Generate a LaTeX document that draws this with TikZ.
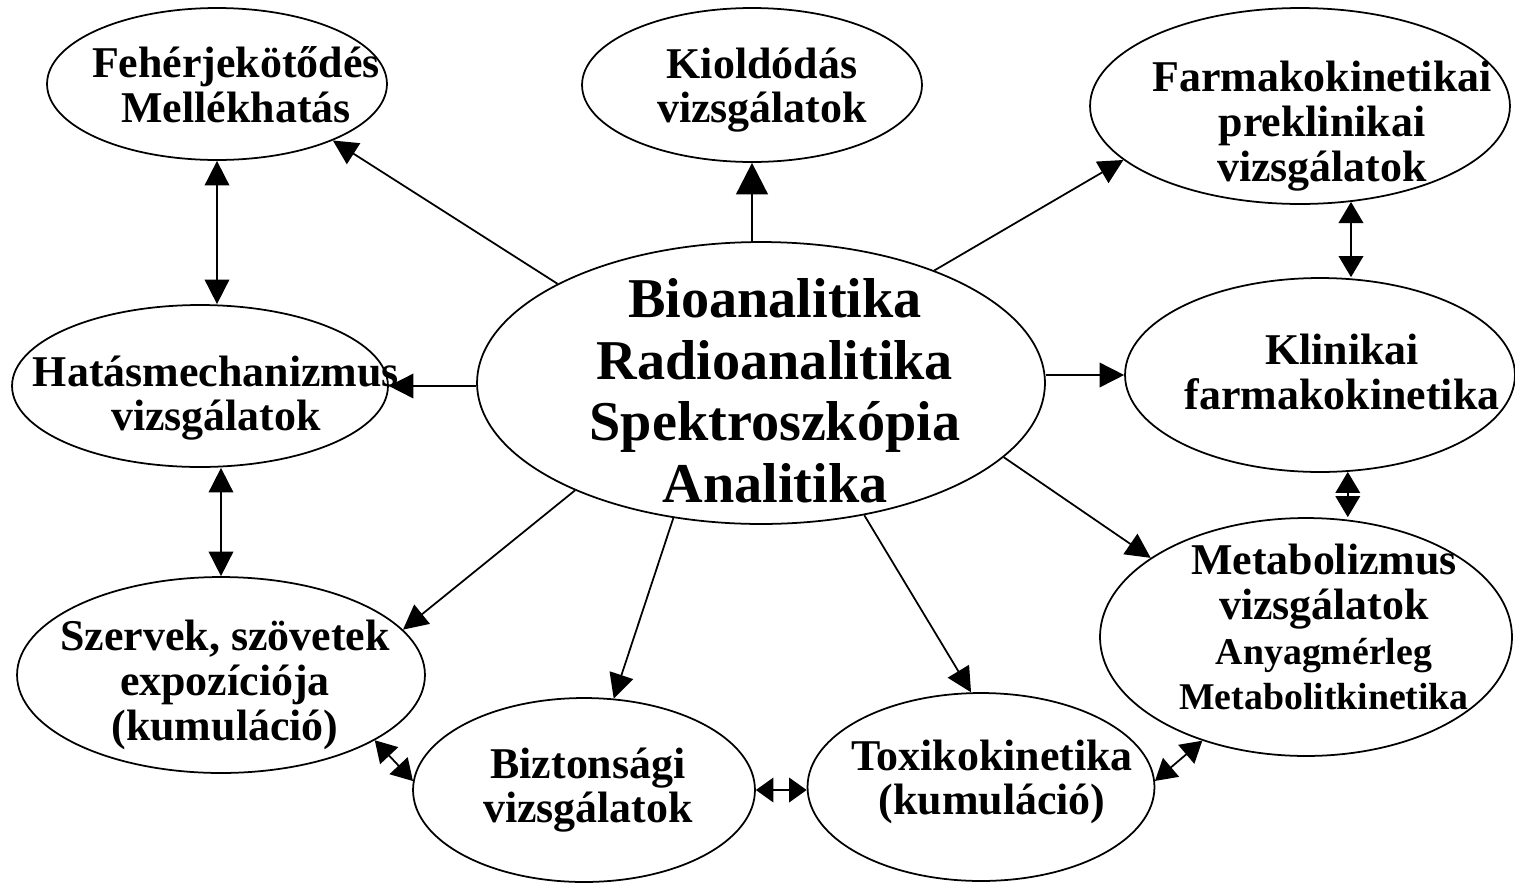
\documentclass[tikz,border=0pt]{standalone}
\usepackage{fontspec}
\setmainfont{Liberation Serif}
\usetikzlibrary{shapes.geometric,arrows.meta}

\begin{document}
\begin{tikzpicture}[x=0.02cm, y=-0.02cm, line width=1pt,
        >={Triangle[length=14pt,width=14pt]},
        main/.style = {draw, ellipse, inner sep=0pt},
        txt/.style = {font=\bfseries\fontsize{25}{25.5}\selectfont, align=center, inner sep=0pt},
        big/.style = {txt, font=\bfseries\fontsize{32}{35}\selectfont},
        dbl/.style = {>={Triangle[length=12pt,width=14pt]}}]
\useasboundingbox (0,0) rectangle (1515,883);
            \node[main, minimum width=11.36cm, minimum height=5.64cm,
                label={[big, shift={(14,8)}]center:{Bioanalitika\\ Radioanalitika\\ Spektroszkópia\\ Analitika}}] (5) at (761,383) {};
            \node[main, minimum width=6.8cm, minimum height=3.04cm,
                label={[txt, shift={(19,1)}]center:{Fehérjekötődés\\ Mellékhatás}}] (1) at (217,84) {};
            \node[main, minimum width=6.8cm, minimum height=3.08cm,
                label={[txt, shift={(10,5)}]center:{Kioldódás\\ vizsgálatok}}] (2) at (752,85) {};
            \node[main, minimum width=8.4cm, minimum height=3.92cm,
                label={[txt, shift={(22,20)}]center:{Farmakokinetikai\\ preklinikai\\ vizsgálatok}}] (3) at (1300,106) {};
            \node[main, minimum width=7.52cm, minimum height=3.24cm,
                label={[txt, shift={(16,12)}]center:{Hatásmechanizmus\\ vizsgálatok}}] (4) at (200,386) {};
            \node[main, minimum width=7.8cm, minimum height=3.88cm,
                label={[txt, shift={(22,-3)}]center:{Klinikai\\ farmakokinetika}}] (6) at (1320,375) {};
            \node[main, minimum width=8.16cm, minimum height=3.92cm,
                label={[txt, shift={(4,10)}]center:{Szervek, szövetek\\ expozíciója\\ (kumuláció)}}] (7) at (221,675) {};
            \node[main, minimum width=6.84cm, minimum height=3.68cm,
                label={[txt, shift={(4,0)}]center:{Biztonsági\\ vizsgálatok}}] (8) at (584,790) {};
            \node[main, minimum width=6.94cm, minimum height=3.76cm,
                label={[txt, shift={(11,-5)}]center:{Toxikokinetika\\ (kumuláció)}}] (9) at (981,787) {};
            \node[main, minimum width=8.24cm, minimum height=4.76cm,
                label={[txt, shift={(18,-10)}]center:{Metabolizmus\\ vizsgálatok\\ {\fontsize{21.5}{22}\selectfont Anyagmérleg}\\ {\fontsize{21.5}{22}\selectfont Metabolitkinetika}}}] (10) at (1306,637) {};
            % from the middle outwards
            \draw[->] (5.154) -- (1.-26);
                \draw[->, line width=1.6pt, >={Triangle[length=18pt,width=18pt]}] (2.south |- 5.north) -- (2.south);
                \draw[->] (5.33) -- (3.-163);
                \draw[->] (6.west -| 5.east) -- (6.west);
                \draw[->] (5.-17) -- (10.153);
                \draw[->] (4.east -| 5.west) -- (4.east);
                \draw[->] (5.210) -- (7.14);
                \draw[->] (5.237) -- (8.72);
                \draw[->] (5.-52) -- (9.96);
            % between neighbours
            \draw[<->] (1.south) -- (1.south |- 4.north);
                \draw[<->] (7.north |- 4.south) -- (7.north);
                \draw[<->, dbl] (3.-62) -- (3.-62 |- 6.north);
                \draw[<->, dbl] (6.-74) -- (6.-74 |- 10.north);
                \draw[<->, dbl] (7.-23) -- (8.177);
                \draw[<->, >={Triangle[length=10pt,width=14pt]}] (8.east) -- (8.east -| 9.west);
                \draw[<->, dbl] (10.225) -- (9.2);
        \end{tikzpicture}
\end{document}
